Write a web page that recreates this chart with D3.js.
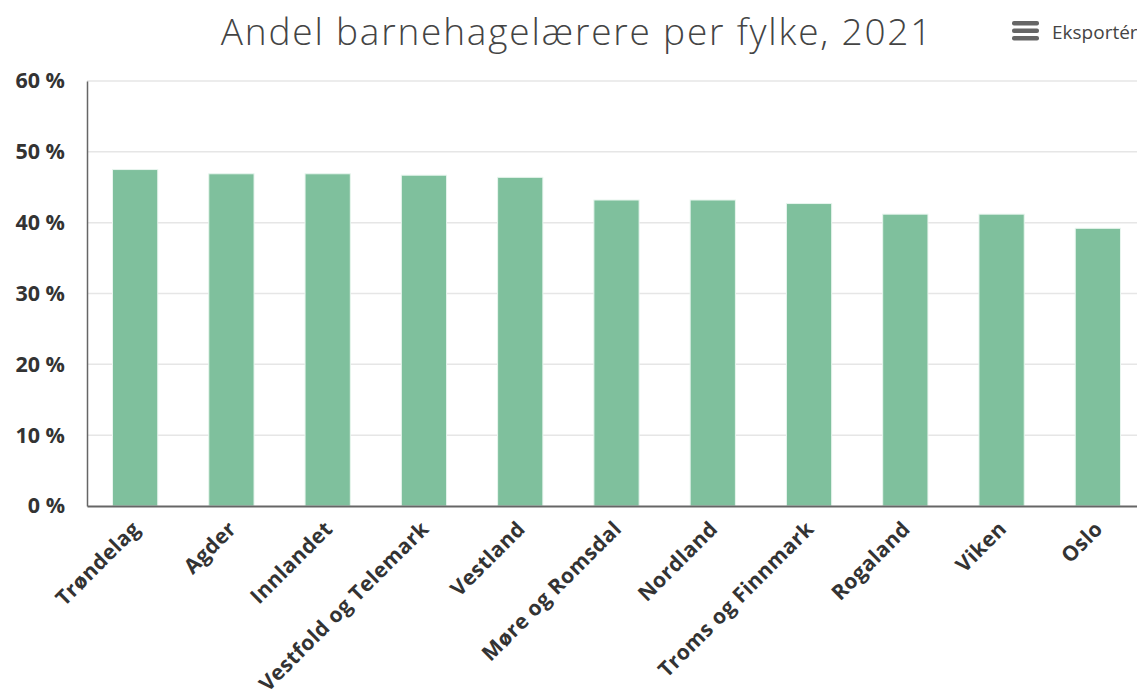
<!DOCTYPE html>
<head>
  <meta charset="utf-8">
  <script src="https://d3js.org/d3.v7.min.js"></script>
  <style>
    body { margin:0; background:#fff; overflow:hidden; }
    text { font-family: "Open Sans", sans-serif; }
  </style>
</head>
<body>
<script>
  // data
  var fylker = ["Trøndelag","Agder","Innlandet","Vestfold og Telemark","Vestland","Møre og Romsdal","Nordland","Troms og Finnmark","Rogaland","Viken","Oslo"];
  var andel = [47.5, 46.9, 46.9, 46.7, 46.4, 43.2, 43.2, 42.7, 41.2, 41.2, 39.2];
  var yTicks = [0, 10, 20, 30, 40, 50, 60];
  var tittel = "Andel barnehagelærere per fylke, 2021";

  var W = 1137, H = 695;
  var margin = {top: 81, left: 87, bottom: 189};
  var plotW = 1059, plotH = H - margin.top - margin.bottom;

  var svg = d3.select("body").append("svg")
    .attr("width", W).attr("height", H);

  var g = svg.append("g")
    .attr("transform", "translate(" + margin.left + "," + margin.top + ")");

  var x = d3.scaleBand().domain(fylker).range([0, plotW]).paddingInner(0.53).paddingOuter(0.265);
  var y = d3.scaleLinear().domain([0, 60]).range([plotH, 0]);

  // gridlines
  g.selectAll(".grid").data(yTicks.filter(function(d){ return d > 0; }))
    .enter().append("line")
    .attr("x1", 0).attr("x2", plotW)
    .attr("y1", function(d){ return y(d); }).attr("y2", function(d){ return y(d); })
    .attr("stroke", "#e6e6e6").attr("stroke-width", 1.5);

  // bars
  g.selectAll(".bar").data(andel)
    .enter().append("rect")
    .attr("class", "bar")
    .attr("x", function(d, i){ return x(fylker[i]); })
    .attr("width", x.bandwidth())
    .attr("y", function(d){ return y(d); })
    .attr("height", function(d){ return plotH - y(d); })
    .attr("fill", "#7fc09d")
    .attr("stroke", "#e8f5ee").attr("stroke-width", 1);

  // y axis
  var yAxis = d3.axisLeft(y).tickValues(yTicks).tickSize(0).tickPadding(22)
    .tickFormat(function(d){ return d + " %"; });
  var ya = g.append("g").call(yAxis);
  ya.select(".domain").attr("stroke", "#666").attr("stroke-width", 1.5);
  ya.selectAll("text").attr("font-size", 21.5).attr("font-weight", 700).attr("fill", "#333")
    .attr("font-family", "'Open Sans', sans-serif");

  // x axis
  var xAxis = d3.axisBottom(x).tickSize(0);
  var xa = g.append("g").attr("transform", "translate(0," + plotH + ")").call(xAxis);
  xa.select(".domain").attr("stroke", "#666").attr("stroke-width", 2);
  xa.selectAll("text")
    .attr("font-size", 21).attr("font-weight", 700).attr("fill", "#333")
    .attr("font-family", "'Open Sans', sans-serif")
    .attr("letter-spacing", 0.4)
    .attr("text-anchor", "end")
    .attr("x", 0).attr("y", 0)
    .attr("dy", "0.35em")
    .attr("transform", "translate(1,19) rotate(-45)");

  // title
  svg.append("text")
    .attr("x", 577).attr("y", 45)
    .attr("text-anchor", "middle")
    .attr("font-size", 37).attr("font-weight", 300).attr("fill", "#444")
    .attr("letter-spacing", 1.8)
    .text(tittel);

  // export button
  var eks = svg.append("g").attr("transform", "translate(1012,21)");
  [0, 7.5, 15].forEach(function(o){
    eks.append("rect").attr("x", 0).attr("y", o).attr("width", 27).attr("height", 4.5)
      .attr("rx", 2).attr("fill", "#666");
  });
  svg.append("text").attr("x", 1052).attr("y", 39)
    .attr("font-size", 19).attr("fill", "#444").text("Eksportér");
</script>
</body>
